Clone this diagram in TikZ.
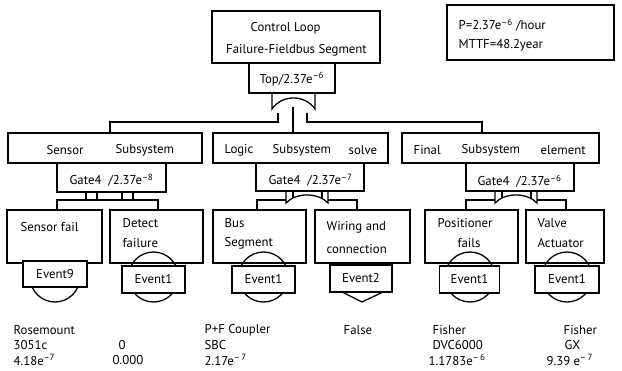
\documentclass[tikz,border=0pt]{standalone}
\usepackage{fontspec}
\setmainfont{PT Sans}
\begin{document}
\begin{tikzpicture}[x=1pt,y=-1pt,line width=1.3pt,
  box/.style={draw,fill=white,inner sep=0pt,line width=1.3pt,font=\fontsize{12.8}{14}\selectfont},
  txt/.style={inner sep=0pt,anchor=west,font=\fontsize{12.8}{14}\selectfont},
  ctxt/.style={txt,anchor=center}]
\useasboundingbox (0,0) rectangle (622,370);
\newcommand{\sm}[1]{\textsuperscript{–#1}}
% top event
\node[box,minimum width=168pt,minimum height=52pt] (top) at (296,37) {};
\node[txt] (t1) at (250,28) {Control Loop};
\node[ctxt] (t2) at (296.5,50) {Failure-Fieldbus Segment};
\node[box,minimum width=86pt,minimum height=30pt] (topgate) at (292,78) {};
\node[txt] (tg) at (259,79) {Top/2.37e\sm{6}};
% info
\node[box,minimum width=167pt,minimum height=55pt] (info) at (530.5,32.5) {};
\node[txt] (i1) at (458,25) {P=2.37e\sm{6} /hour};
\node[txt] (i2) at (458,45) {MTTF=48.2year};
% subsystems
\node[box,minimum width=194pt,minimum height=30pt] (sensor) at (105,148) {};
\node[box,minimum width=175pt,minimum height=30pt] (logic) at (300.5,148) {};
\node[box,minimum width=197pt,minimum height=30pt] (final) at (500.5,148) {};
\node[txt] at (46,150) {Sensor};
\node[txt] at (115,150) {Subsystem};
\node[txt] at (224,150) {Logic};
\node[txt] at (272,150) {Subsystem};
\node[txt] at (348,150) {solve};
\node[txt] at (413,150) {Final};
\node[txt] at (461,150) {Subsystem};
\node[txt] at (540,150) {element};
% top gate
\draw (272,93) -- (272,109) .. controls (282,94.3) and (305,94.3) .. (315,109) -- (315,93);
\draw (sensor.north -| 110,0) |- (278,122) -- (278,113);
\draw (logic.north -| 293,0) -- (293,107);
\draw (final.north -| 482,0) |- (307,122) -- (307,113);
% gates
\node[box,minimum width=109pt,minimum height=29pt] (sgate) at (111.5,177.5) {};
\node[box,minimum width=108pt,minimum height=28pt] (lgate) at (310,177) {};
\node[box,minimum width=108pt,minimum height=28pt] (fgate) at (520,177) {};
\node[txt] at (69,180) {Gate4\ \ /2.37e\sm{8}};
\node[txt] at (268,180) {Gate4\ \ /2.37e\sm{7}};
\node[txt] at (477,181) {Gate4\ \ /2.37e\sm{6}};
% sensor gate connectors
\draw (57,210) -- (57,200) -- (158,200) -- (158,210);
\foreach \x in {86,97,122,133} \draw (\x,192) -- (\x,200);
% OR gates
\foreach \s in {0,209}{
 \begin{scope}[xshift=\s pt]
 \draw (257,209) |- (286,200);
 \draw (286,191) -- (286,203) .. controls (296,192.3) and (318,192.3) .. (328,203) -- (328,191);
 \draw (293,191) -- (293,197.5);
 \draw (322,191) -- (322,197.5);
 \draw (328,200) -| (357,209);
 \end{scope}}
% Event9 circle (hidden top)
\draw (55,277) circle (25pt);
% basic event boxes
\node[box,minimum width=95pt,minimum height=53pt] (esf) at (54.5,236.5) {};
\node[box,minimum width=93pt,minimum height=53pt] (edf) at (156.5,236.5) {};
\node[box,minimum width=93pt,minimum height=53pt] (ebus) at (259.5,236.5) {};
\node[box,minimum width=95pt,minimum height=53pt] (ewire) at (362.5,236.5) {};
\node[box,minimum width=93pt,minimum height=53pt] (epos) at (471.5,236.5) {};
\node[box,minimum width=78pt,minimum height=53pt] (evalve) at (565,236.5) {};
\node[txt] at (20,227) {Sensor fail};
\node[txt] at (122,223) {Detect};
\node[txt] at (122,243) {failure};
\node[txt] at (224,223) {Bus};
\node[txt] at (224,243) {Segment};
\node[txt] at (326,227) {Wiring and};
\node[txt] at (326,249) {connection};
\node[txt] at (437,223) {Positioner};
\node[ctxt] at (469,243) {fails};
\node[txt] at (537,223) {Valve};
\node[txt] at (537,243) {Actuator};
% circles
\draw (153.5,277) circle (25pt);
\draw (263.5,277) circle (25pt);
\draw (470,277) circle (25pt);
\draw (567,277) circle (25pt);
\draw (342,292) -- (362,302) -- (383,292);
% event labels
\node[box,minimum width=64pt,minimum height=26pt] (ev9) at (55,274) {Event9};
\node[box,minimum width=63pt,minimum height=27pt] (ev1a) at (153.5,279.5) {Event1};
\node[box,minimum width=63pt,minimum height=27pt] (ev1b) at (263.5,279.5) {Event1};
\node[box,minimum width=62pt,minimum height=27pt] (ev2) at (361,278.5) {Event2};
\node[box,minimum width=60pt,minimum height=27pt] (ev1c) at (469.5,279.5) {Event1};
\node[box,minimum width=64pt,minimum height=27pt] (ev1d) at (567,279.5) {Event1};
% data
\node[txt] at (13,330) {Rosemount};
\node[txt] at (13,345) {3051c};
\node[txt] at (13,360) {4.18e\sm{7}};
\node[txt] at (118,345) {0};
\node[txt] at (112,360) {0.000};
\node[txt] at (204,330) {P+F Coupler};
\node[txt] at (204,345) {SBC};
\node[txt] at (204,360) {2.17e\sm{\,7}};
\node[txt] at (343,330) {False};
\node[txt] at (432,330) {Fisher};
\node[txt] at (432,345) {DVC6000};
\node[txt] at (428,360) {1.1783e\sm{\,6}};
\node[txt] at (563,330) {Fisher};
\node[txt] at (564,345) {GX};
\node[txt] at (546,360) {9.39 e\sm{\,7}};
\end{tikzpicture}
\end{document}
